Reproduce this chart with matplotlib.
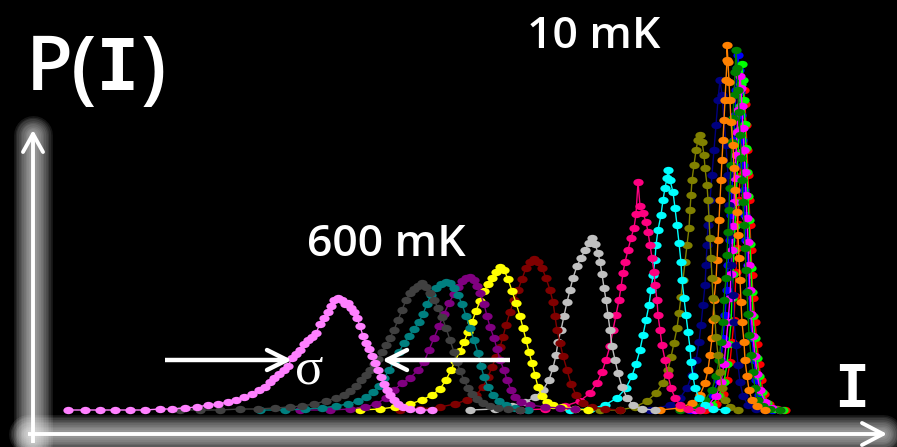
import numpy as np
import matplotlib
matplotlib.use("Agg")
import matplotlib.pyplot as plt
from matplotlib.path import Path

# ---------------- data: (current I, probability P) ----------------
T600_violet = [(68,0),(85,0),(100,0),(115,0),(130,0),(145,0),(160,1),(172,1),(185,2),(197,3),
               (208,5),(218,6),(228,8),(236,10),(244,13),(252,16),(259,20),(265,23),(270,28),(274,32),
               (279,36),(284,40),(288,44),(292,52),(296,56),(300,60),(304,66),(308,70),(312,73),(316,77),
               (320,86),(324,92),(328,98),(331,104),(334,110),(338,112),(342,110),(345,106),(348,107),(351,102),
               (354,98),(357,92),(360,84),(363,74),(366,67),(369,61),(372,54),(375,47),(378,40),(381,33),
               (384,26),(387,20),(390,15),(394,10),(398,6),(403,3),(410,1),(420,0),(432,0)]
s_gray = [(180,0),(200,0),(220,0),(240,1),(258,1),(275,2),(290,3),(302,4),(314,6),(326,9),
          (336,12),(344,15),(350,19),(356,24),(361,30),(366,35),(370,40),(374,46),(378,51),(382,58),
          (386,65),(390,72),(394,80),(398,90),(402,100),(406,110),(410,117),(414,121),(418,124),(422,127),
          (426,123),(430,117),(434,110),(438,102),(442,93),(446,82),(450,70),(454,58),(457,48),(460,39),
          (464,30),(468,22),(472,16),(477,11),(483,7),(490,4),(498,2),(508,1),(520,0)]
s_teal = [(260,0),(285,0),(305,1),(322,2),(336,4),(348,6),(358,9),(366,13),(373,18),(379,24),
          (384,32),(389,40),(394,48),(399,58),(404,67),(409,74),(414,81),(419,88),(423,96),(427,106),
          (431,115),(436,122),(441,126),(446,128),(450,127),(454,122),(458,115),(462,106),(466,94),(470,82),
          (474,70),(478,57),(481,44),(484,33),(488,23),(493,15),(499,9),(506,5),(515,2),(528,0)]
s_purple = [(300,0),(330,0),(350,1),(365,3),(376,6),(386,12),(394,20),(402,27),(410,32),(418,40),
            (424,48),(429,60),(434,72),(439,84),(444,96),(449,107),(454,116),(458,123),(462,129),(466,132),
            (470,133),(474,130),(477,124),(480,117),(484,106),(487,94),(490,83),(494,72),(497,61),(500,50),
            (504,40),(507,30),(511,20),(515,13),(521,8),(530,5),(545,3),(560,2),(575,1)]
s_yellow = [(360,0),(380,1),(395,3),(410,6),(422,10),(432,15),(440,21),(446,30),(451,40),(455,49),
            (460,59),(464,68),(468,78),(472,88),(476,99),(480,109),(484,119),(488,126),(492,132),(496,138),
            (500,143),(504,140),(508,131),(512,119),(516,107),(520,94),(523,82),(526,70),(529,58),(532,47),
            (535,35),(538,23),(542,14),(547,8),(553,5),(562,3),(575,1),(588,0)]
s_darkred = [(400,0),(420,1),(440,3),(455,6),(467,10),(476,15),(483,23),(488,33),(492,43),(496,53),
             (500,63),(503,73),(506,85),(510,98),(514,110),(518,120),(522,131),(526,142),(530,148),(534,151),
             (538,148),(542,142),(546,132),(550,120),(553,108),(555,94),(557,80),(560,67),(563,54),(567,40),
             (571,26),(576,15),(583,7),(592,3),(605,1),(620,0)]
s_silver = [(470,0),(495,1),(512,4),(525,8),(535,13),(543,20),(549,30),(553,42),(556,55),(558,68),
            (561,80),(564,94),(567,108),(570,120),(573,132),(577,144),(581,152),(585,160),(589,167),(592,172),
            (595,166),(598,157),(600,148),(602,136),(604,122),(606,110),(608,95),(610,80),(612,64),(615,50),
            (618,37),(622,23),(627,12),(633,5),(642,1),(655,0)]
s_pink = [(520,0),(545,1),(565,4),(580,9),(590,17),(597,27),(602,38),(606,50),(610,64),(613,80),
          (616,95),(619,110),(621,123),(623,137),(625,148),(628,160),(631,172),(634,182),(636,196),(638,228),
          (640,204),(643,197),(646,188),(648,178),(650,165),(652,152),(654,138),(655,125),(657,110),(658,95),
          (660,80),(662,65),(665,50),(668,35),(671,22),(675,12),(680,5),(688,1),(700,0)]
s_cyan = [(570,0),(590,1),(605,5),(617,12),(626,22),(632,34),(636,46),(640,60),(643,75),(646,90),
          (649,105),(651,120),(653,135),(655,150),(656,165),(658,180),(661,195),(663,210),(665,222),(667,232),
          (668,240),(670,230),(673,218),(675,202),(677,185),(679,167),(681,148),(682,130),(684,112),(686,95),
          (688,78),(690,62),(691,48),(693,34),(695,22),(699,12),(705,5),(713,1),(725,0)]
s_olive = [(600,0),(620,0),(635,3),(647,9),(656,17),(663,27),(668,40),(671,53),(674,67),(677,82),
           (679,97),(681,113),(683,130),(685,148),(687,165),(689,182),(690,200),(691,215),(692,230),(694,245),
           (696,260),(698,270),(700,275),(702,268),(704,255),(705,242),(707,225),(708,210),(709,192),(710,172),
           (711,152),(712,132),(713,112),(715,92),(716,73),(718,55),(720,38),(722,22),(725,10),(730,3),(738,0)]
s_navy = [(650,0),(670,5),(680,12),(687,22),(692,35),(696,50),(699,68),(701,85),(703,105),(705,125),
          (706,145),(707,165),(708,185),(710,210),(712,235),(714,260),(716,285),(718,310),(720,330),(722,315),
          (724,290),(726,265),(728,235),(729,205),(730,175),(731,145),(733,115),(734,88),(736,65),(738,45),
          (740,28),(743,14),(748,5),(756,1),(765,0)]
T10_orange = [(660,0),(680,2),(692,7),(700,15),(705,27),(708,40),(710,55),(712,72),(713,90),(714,110),
              (716,130),(717,150),(718,170),(719,190),(720,210),(721,230),(722,250),(723,270),(724,290),(725,310),
              (726,330),(727,350),(727,365),(728,348),(729,328),(730,310),(731,288),(733,265),(734,242),(735,220),
              (737,198),(738,175),(739,152),(740,130),(741,108),(742,88),(744,68),(745,50),(747,34),(749,20),
              (752,10),(757,4),(765,0)]
s_green = [(680,0),(695,3),(705,10),(712,20),(716,34),(719,50),(721,68),(723,88),(724,110),(726,132),
           (727,155),(728,178),(729,200),(730,222),(731,245),(732,268),(733,292),(734,315),(735,338),(736,360),
           (737,342),(738,320),(739,298),(740,275),(741,252),(742,230),(743,208),(744,185),(745,162),(746,140),
           (747,118),(748,96),(749,75),(751,55),(753,38),(755,22),(758,10),(763,4),(770,1),(780,0)]
s_blue = [(690,0),(705,5),(713,15),(718,30),(721,50),(723,72),(725,95),(727,120),(728,145),(730,170),
          (731,195),(732,220),(733,245),(734,270),(735,295),(736,320),(737,342),(738,355),(739,340),(740,318),
          (741,295),(742,270),(743,245),(744,220),(745,195),(746,170),(748,145),(749,120),(750,95),(752,72),
          (754,50),(756,30),(759,15),(764,5),(772,0)]
s_magenta = [(695,0),(708,5),(716,14),(721,28),(724,46),(726,66),(728,88),(730,112),(731,136),(732,160),
             (733,184),(734,208),(735,232),(736,255),(737,278),(738,300),(739,320),(740,334),(741,322),(742,304),
             (743,282),(744,260),(745,238),(746,215),(747,192),(748,168),(749,145),(750,120),(751,96),(753,74),
             (755,54),(757,36),(760,20),(765,8),(772,2),(780,0)]
s_lime = [(700,0),(712,5),(719,14),(724,28),(727,46),(729,66),(731,88),(732,112),(733,136),(734,160),
          (735,184),(736,208),(737,232),(738,256),(739,280),(740,304),(741,326),(742,346),(743,330),(744,310),
          (745,286),(746,262),(747,238),(748,214),(749,190),(750,166),(751,142),(752,118),(753,94),(755,72),
          (757,52),(759,34),(762,18),(767,7),(775,1),(783,0)]
s_red = [(705,0),(716,6),(723,16),(727,30),(730,48),(732,68),(734,90),(735,114),(736,138),(737,162),
         (738,186),(739,210),(740,234),(741,258),(742,282),(743,305),(744,320),(745,306),(746,285),(747,260),
         (748,235),(749,210),(750,185),(751,160),(752,135),(753,112),(755,88),(757,66),(759,46),(761,30),
         (764,16),(769,6),(777,1),(785,0)]

# drawn back to front
series = [(s_red, '#ff0000'), (s_blue, '#0000ff'), (s_lime, '#00ff00'), (s_magenta, '#ff00ff'),
          (s_navy, '#000080'), (s_green, '#008000'), (T10_orange, '#ff8000'), (s_olive, '#808000'),
          (s_cyan, '#00ffff'), (s_pink, '#ff0080'), (s_silver, '#c0c0c0'), (s_darkred, '#800000'),
          (s_yellow, '#ffff00'), (s_purple, '#800080'), (s_teal, '#008080'), (s_gray, '#404040'),
          (T600_violet, '#ff80ff')]

W, H = 897, 447
BASE = 410  # pixel row of P = 0
fig = plt.figure(figsize=(W / 100, H / 100), dpi=100, facecolor='black')
ax = fig.add_axes([0, 0, 1, 1])
ax.set_facecolor('black')
ax.set_xlim(0, W)
ax.set_ylim(BASE - H, BASE)
ax.axis('off')


def px(x, y):
    return x, BASE - y


# ellipse marker
circ = Path.unit_circle()
ell = Path(circ.vertices * np.array([1.4, 1.0]), circ.codes)

for k, (pts, col) in enumerate(series):
    arr = np.array(pts, dtype=float)
    ax.plot(arr[:, 0], arr[:, 1], '-', color=col, lw=1.0, marker=ell, ms=7.4,
            mec='none', mfc=col, zorder=10 + k)

# glowing axes
def glow_line(xs, ys):
    X, Y = px(np.array(xs), np.array(ys))
    for w in np.linspace(28, 6, 10):
        ax.plot(X, Y, color='white', lw=w, alpha=0.085, solid_capstyle='round', zorder=2)
    ax.plot(X, Y, color='white', lw=2.8, solid_capstyle='butt', zorder=3)

glow_line([33, 33], [443, 135])
glow_line([28, 883], [434, 434])
for (a, b) in [((23, 152), (33, 134)), ((43, 152), (33, 134)),
               ((862, 423), (883, 434)), ((862, 445), (883, 434))]:
    X, Y = px(np.array([a[0], b[0]]), np.array([a[1], b[1]]))
    ax.plot(X, Y, color='white', lw=2.8, solid_capstyle='round', zorder=3)

# sigma arrows
def arrow(x0, x1, y):
    X, Y = px(np.array([x0, x1]), np.array([y, y]))
    ax.plot(X, Y, color='white', lw=3.2, solid_capstyle='butt', zorder=50)
    d = 20 if x1 > x0 else -20
    for dy in (-10, 10):
        X, Y = px(np.array([x1 - d, x1]), np.array([y + dy, y]))
        ax.plot(X, Y, color='white', lw=3.2, solid_capstyle='round', zorder=50)

arrow(165, 287, 360)
arrow(510, 387, 360)

font = 'Open Sans'
def label(x, y, s, size, family=font, ha='left', weight='semibold'):
    X, Y = px(x, y)
    ax.text(X, Y, s, color='white', fontsize=size, family=family, ha=ha, va='baseline',
            fontweight=weight, zorder=60)

# "P(I)" placed glyph by glyph
label(49, 90, 'P', 55, ha='center')
label(84, 94, '(', 58, ha='center')
label(118, 90, 'I', 52, family='DejaVu Sans Mono', ha='center', weight='bold')
label(153, 94, ')', 58, ha='center')
label(527, 48, '10 mK', 32)
label(307, 256, '600 mK', 32)
label(852, 407, 'I', 42, family='DejaVu Sans Mono', ha='center', weight='bold')
label(295, 383, 'σ', 38, family='Liberation Serif', weight='normal')

fig.savefig('out.png', dpi=100, facecolor='black')
